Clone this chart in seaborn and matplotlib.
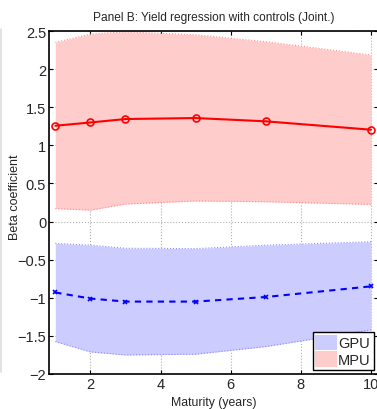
import numpy as np
import pandas as pd
import matplotlib
matplotlib.use("Agg")
import matplotlib.pyplot as plt
import seaborn as sns
from matplotlib.patches import Patch
from matplotlib.lines import Line2D

maturity = [1, 2, 3, 5, 7, 10]
mpu_mean = [1.257, 1.30, 1.345, 1.358, 1.315, 1.205]
mpu_upper = [2.35, 2.46, 2.49, 2.45, 2.36, 2.185]
mpu_lower = [0.17, 0.15, 0.23, 0.27, 0.26, 0.225]
gpu_mean = [-0.93, -1.01, -1.05, -1.05, -0.99, -0.85]
gpu_upper = [-0.286, -0.31, -0.35, -0.355, -0.31, -0.265]
gpu_lower = [-1.575, -1.71, -1.75, -1.74, -1.64, -1.42]
xticks = [2, 4, 6, 8, 10]
yticks = [-2, -1.5, -1, -0.5, 0, 0.5, 1, 1.5, 2, 2.5]
ytick_labels = ["\u22122", "\u22121.5", "\u22121", "\u22120.5", "0", "0.5", "1", "1.5", "2", "2.5"]

sns.set_theme(style="white")
narrow = ["Liberation Sans Narrow", "Liberation Sans", "DejaVu Sans"]
plt.rcParams["font.family"] = narrow

df = pd.DataFrame({"maturity": maturity, "mpu": mpu_mean, "gpu": gpu_mean})

fig = plt.figure(figsize=(3.77, 4.10), dpi=100)
ax = fig.add_axes([49 / 377, 35 / 410, 329 / 377, 343 / 410])

# faint strip at the left edge of the reference image
fig.add_artist(Line2D([0.002, 0.002], [(410 - 373) / 410, (410 - 30) / 410],
                      transform=fig.transFigure, color="#dddddd", linewidth=1.2))

mpu_fill = (1.0, 0.8, 0.8)
gpu_fill = (0.8, 0.8, 1.0)

ax.fill_between(maturity, mpu_lower, mpu_upper, color=mpu_fill, zorder=1, linewidth=0)
ax.plot(maturity, mpu_upper, color=(1.0, 0.55, 0.55), linestyle=":", linewidth=0.8, zorder=1.5)
ax.plot(maturity, mpu_lower, color=(1.0, 0.55, 0.55), linestyle=":", linewidth=0.8, zorder=1.5)
ax.fill_between(maturity, gpu_lower, gpu_upper, color=gpu_fill, zorder=1, linewidth=0)
ax.plot(maturity, gpu_upper, color=(0.55, 0.55, 1.0), linestyle=":", linewidth=0.8, zorder=1.5)
ax.plot(maturity, gpu_lower, color=(0.55, 0.55, 1.0), linestyle=":", linewidth=0.8, zorder=1.5)

sns.lineplot(data=df, x="maturity", y="mpu", ax=ax, color="red", linewidth=1.5,
             marker="o", markersize=5, markerfacecolor="none", markeredgecolor="red",
             markeredgewidth=1.2, zorder=3)
sns.lineplot(data=df, x="maturity", y="gpu", ax=ax, color="blue", linewidth=1.5,
             linestyle=(0, (3, 2.5)), marker="x", markersize=3.5, markeredgecolor="blue",
             markeredgewidth=1.2, zorder=3)

ax.set_xlim(0.82, 10.2)
ax.set_ylim(-2, 2.5)
ax.set_xticks(xticks)
ax.set_xticklabels([str(t) for t in xticks])
ax.set_yticks(yticks)
ax.set_yticklabels(ytick_labels)
ax.grid(True, color="#b0b0b0", linestyle=":", linewidth=0.8, zorder=0)
ax.set_axisbelow(True)
ax.tick_params(direction="in", length=3, width=0.8, color="black", labelsize=10.5,
               top=True, right=True, bottom=True, left=True, pad=2)
for sp in ax.spines.values():
    sp.set_color("black")
    sp.set_linewidth(1.2)

ax.set_title("Panel B: Yield regression with controls (Joint.)", fontsize=8.6, pad=8)
ax.set_xlabel("Maturity (years)", fontsize=8.8, labelpad=4)
ax.set_ylabel("Beta coefficient", fontsize=9, fontfamily="Liberation Sans")
ax.yaxis.set_label_coords(-0.085, 0.519)

handles = [Patch(facecolor=gpu_fill, edgecolor="none", label="GPU"),
           Patch(facecolor=mpu_fill, edgecolor="none", label="MPU")]
leg = ax.legend(handles=handles, loc="lower right", fontsize=10.5, frameon=True,
                fancybox=False, edgecolor="black", framealpha=1,
                handlelength=1.45, handleheight=1.25, handletextpad=0.1,
                borderpad=0.2, labelspacing=0.05, borderaxespad=0.3)
leg.get_frame().set_linewidth(1.0)

fig.savefig("out.png", dpi=100)
